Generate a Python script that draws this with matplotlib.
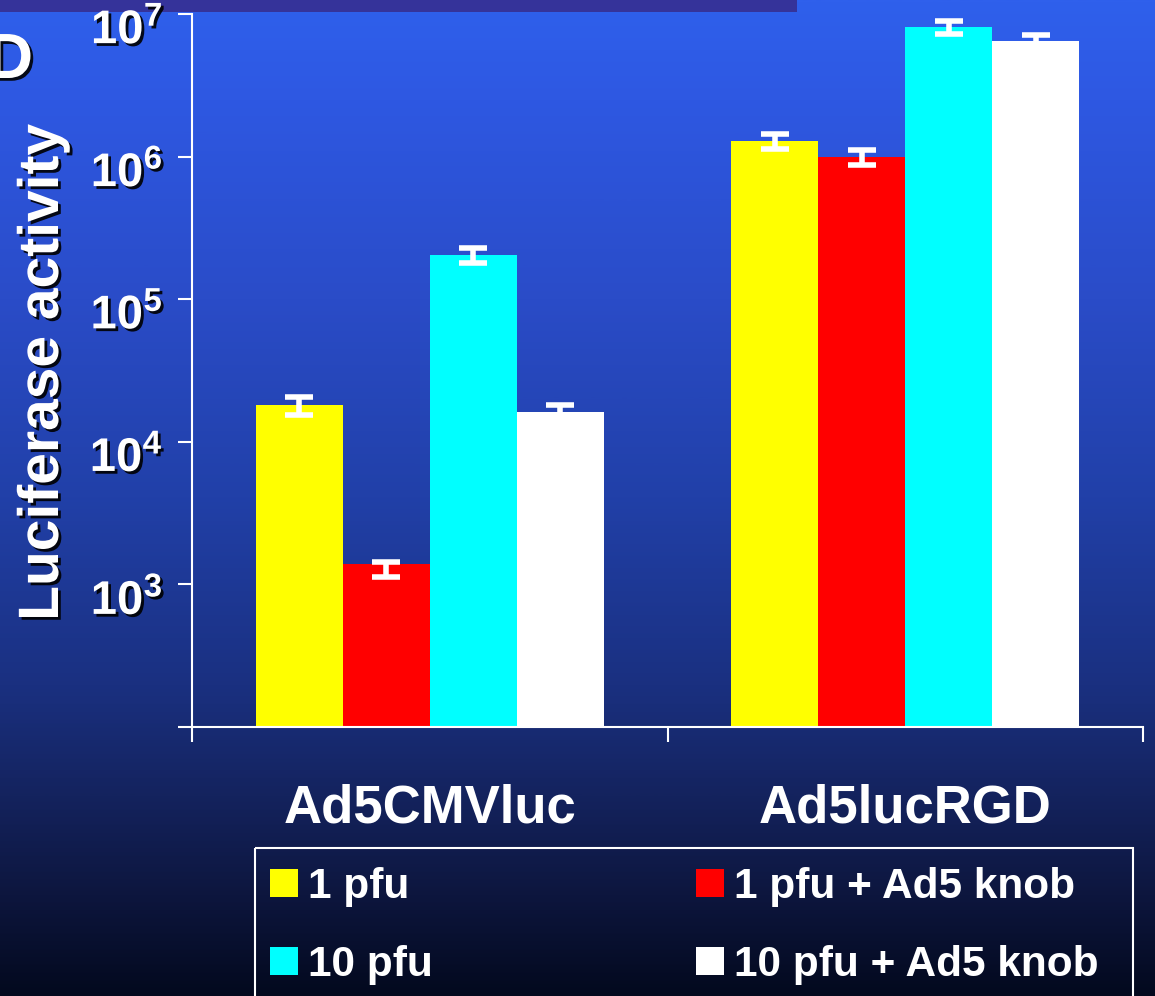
import numpy as np
import matplotlib
matplotlib.use("Agg")
import matplotlib.pyplot as plt
import matplotlib.patheffects as pe
from matplotlib.patches import Rectangle, Patch
from matplotlib.colors import LinearSegmentedColormap
from matplotlib.transforms import ScaledTranslation

plt.rcParams['font.family'] = ['Liberation Sans', 'DejaVu Sans']
plt.rcParams['font.weight'] = 'bold'
plt.rcParams['axes.labelweight'] = 'bold'
plt.rcParams['mathtext.fontset'] = 'custom'
plt.rcParams['mathtext.rm'] = 'Liberation Sans:bold'

# data
constructs = ['Ad5CMVluc', 'Ad5lucRGD']
conditions = ['1 pfu', '1 pfu + Ad5 knob', '10 pfu', '10 pfu + Ad5 knob']
colors = ['#ffff00', '#ff0000', '#00ffff', '#ffffff']
values = {
    '1 pfu':            [1.8e4, 1.29e6],
    '1 pfu + Ad5 knob': [1.28e3, 1.0e6],
    '10 pfu':           [2.05e5, 8.1e6],
    '10 pfu + Ad5 knob': [1.6e4, 6.5e6],
}
errors = {
    '1 pfu':            [2.5e3, 1.6e5],
    '1 pfu + Ad5 knob': [1.6e2, 1.2e5],
    '10 pfu':           [2.5e4, 9.0e5],
    '10 pfu + Ad5 knob': [2.2e3, 6.0e5],
}
ytick_vals = [1e2, 1e3, 1e4, 1e5, 1e6, 1e7]
ytick_labels = ['', r'$\mathrm{10^{3}}$', r'$\mathrm{10^{4}}$', r'$\mathrm{10^{5}}$',
                r'$\mathrm{10^{6}}$', r'$\mathrm{10^{7}}$']

W, H = 1155, 996
fig = plt.figure(figsize=(W / 100, H / 100), dpi=100)

# blue slide background
bg = fig.add_axes([0, 0, 1, 1], zorder=-10)
stops = [(0.0, '#2f60ec'), (0.10, '#2e58e2'), (0.30, '#2a4cc8'), (0.50, '#2140a8'),
         (0.69, '#1a3080'), (0.80, '#14235e'), (0.90, '#0d163e'), (1.0, '#03091e')]
cmap = LinearSegmentedColormap.from_list('slide', stops)
grad = np.linspace(0, 1, 512).reshape(-1, 1)
bg.imshow(grad, cmap=cmap, aspect='auto', extent=[0, 1, 1, 0])
bg.set_xlim(0, 1)
bg.set_ylim(1, 0)
bg.axis('off')
bg.add_patch(Rectangle((0, 0), 797 / W, 12 / H, color='#35339a', lw=0))
# legend box, open at the bottom edge
bg.add_patch(Rectangle((255 / W, 848 / H), (1133 - 255) / W, 200 / H,
                       facecolor='none', edgecolor='white', lw=1.5))

shadow = [pe.SimplePatchShadow(offset=(2, -2), shadow_rgbFace='black', alpha=0.9), pe.Normal()]

ax = fig.add_axes([192 / W, (H - 727) / H, 951 / W, 713 / H])
ax.set_facecolor('none')

x = np.arange(len(constructs))
w = 0.183
for i, cond in enumerate(conditions):
    ax.bar(x + (i - 1.5) * w, values[cond], w, bottom=1e2, color=colors[i], zorder=2)
    ax.errorbar(x + (i - 1.5) * w, values[cond], yerr=errors[cond], fmt='none',
                ecolor='white', elinewidth=4, capsize=10, capthick=4, zorder=3)

ax.set_yscale('log')
ax.set_ylim(1e2, 1e7)
ax.set_xlim(-0.5, 1.5)
ax.minorticks_off()
ax.set_yticks(ytick_vals)
ax.set_yticklabels(ytick_labels)
ax.set_xticks([-0.5, 0.5, 1.5])
ax.set_xticklabels([])
ax.set_xticks(x, constructs, minor=True)

for s in ['top', 'right']:
    ax.spines[s].set_visible(False)
for s in ['left', 'bottom']:
    ax.spines[s].set_color('white')
    ax.spines[s].set_linewidth(1.5)

ax.tick_params(axis='y', which='major', direction='out', length=10, width=1.5,
               color='white', labelcolor='white', labelsize=34, pad=11)
ax.tick_params(axis='x', which='major', direction='out', length=11, width=1.5, color='white')
ax.tick_params(axis='x', which='minor', length=0, labelcolor='white', labelsize=38, pad=41)

for lab in ax.get_yticklabels():
    lab.set_transform(lab.get_transform() + ScaledTranslation(0, -12 / 100, fig.dpi_scale_trans))
    lab.set_path_effects(shadow)

ax.set_ylabel('Luciferase activity', color='white', fontsize=41, fontweight='bold')
ax.yaxis.label.set_path_effects(shadow)
ax.yaxis.set_label_coords(-122 / 951, 0.498)

fig.text(-13 / W, (H - 78) / H, 'D', color='white', fontsize=46, path_effects=shadow)

handles = [Patch(facecolor=colors[k], edgecolor='none') for k in [0, 2, 1, 3]]
labels = [conditions[k] for k in [0, 2, 1, 3]]
leg = fig.legend(handles, labels, ncol=2, loc='upper left',
                 bbox_to_anchor=(270 / W, (H - 867) / H), fontsize=30.5,
                 frameon=False, handlelength=0.66, handleheight=0.62,
                 handletextpad=0.24, columnspacing=6.2, labelspacing=0.9,
                 borderpad=0, borderaxespad=0)
for t in leg.get_texts():
    t.set_color('white')

fig.savefig('out.png', dpi=100)
